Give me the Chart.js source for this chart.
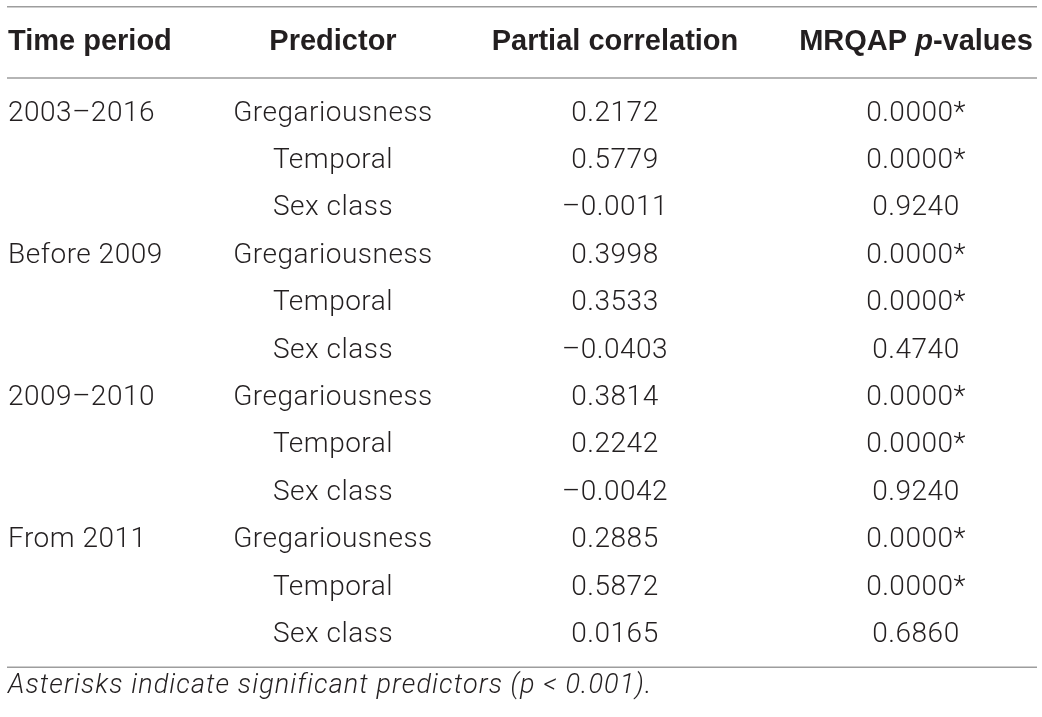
<!DOCTYPE html>
<html><head><meta charset="utf-8">
<script src="https://cdn.jsdelivr.net/npm/chart.js@4.4.0/dist/chart.umd.min.js"></script>
<style>html,body{margin:0;padding:0;background:#fff}#wrap{width:1042px;height:717px;position:relative}</style>
</head><body><div id="wrap"><canvas id="c"></canvas></div>
<script>
// ---- data ----
const headers = ['Time period', 'Predictor', 'Partial correlation', 'MRQAP p-values'];
const periods = ['2003–2016', 'Before 2009', '2009–2010', 'From 2011'];
const predictors = ['Gregariousness', 'Temporal', 'Sex class'];
const partialCorr = [0.2172, 0.5779, -0.0011, 0.3998, 0.3533, -0.0403, 0.3814, 0.2242, -0.0042, 0.2885, 0.5872, 0.0165];
const pValues = [0.0000, 0.0000, 0.9240, 0.0000, 0.0000, 0.4740, 0.0000, 0.0000, 0.9240, 0.0000, 0.0000, 0.6860];
const sigThreshold = 0.001;
const footnote = 'Asterisks indicate significant predictors (p < 0.001).';

// ---- layout / style ----
const colX = [8, 333, 615, 916];
const colAlign = ['left', 'center', 'center', 'center'];
const headerRow = -1.5, rulesY = [-2.25, -0.75, 11.68], footRow = 12.08;
const ink = '#231f20';
const bodyFont = "300 28px Roboto", bodySpacing = '0.5px';
const headFont = "bold 29px 'Liberation Sans'";
const headItal = "italic bold 29px 'Liberation Sans'";
const footFont = "italic 300 27px Roboto", footSpacing = '1.1px';

const fmt = v => (v < 0 ? '–' : '') + Math.abs(v).toFixed(4);
const rowsIdx = partialCorr.map((_, i) => i);

function textSet(col, rows, texts, font, spacing) {
  return { type: 'scatter', data: rows.map(r => ({ x: colX[col], y: r })), texts, align: colAlign[col], font, spacing: spacing || '0px', pointRadius: 0, showLine: false };
}
const datasets = [];
headers.forEach((h, c) => {
  let t = h;
  if (h.indexOf(' p-') >= 0) {
    const [a, b] = h.split(' p-');
    t = [{ t: a + ' ', f: headFont }, { t: 'p', f: headItal }, { t: '-' + b, f: headFont }];
  }
  datasets.push(textSet(c, [headerRow], [t], headFont));
});
datasets.push(textSet(0, periods.map((_, g) => g * predictors.length), periods, bodyFont, bodySpacing));
datasets.push(textSet(1, rowsIdx, rowsIdx.map(i => predictors[i % predictors.length]), bodyFont, bodySpacing));
datasets.push(textSet(2, rowsIdx, partialCorr.map(fmt), bodyFont, bodySpacing));
datasets.push(textSet(3, rowsIdx, pValues.map(p => p.toFixed(4) + (p < sigThreshold ? '*' : '')), bodyFont, bodySpacing));
datasets.push({ type: 'scatter', data: [{ x: colX[0], y: footRow }], texts: [footnote], align: 'left', font: footFont, spacing: footSpacing, pointRadius: 0 });
rulesY.forEach(r => datasets.push({ type: 'line', data: [{ x: 7, y: r }, { x: 1037, y: r }], borderColor: '#9d9d9d', borderWidth: 1.5, pointRadius: 0, fill: false }));

const tablePlugin = {
  id: 'tableText',
  afterDatasetsDraw(chart) {
    const ctx = chart.ctx;
    chart.data.datasets.forEach((ds, di) => {
      if (!ds.texts) return;
      const meta = chart.getDatasetMeta(di);
      meta.data.forEach((el, i) => {
        const t = ds.texts[i];
        const segs = Array.isArray(t) ? t : [{ t, f: ds.font }];
        ctx.save();
        ctx.fillStyle = ink;
        ctx.textBaseline = 'middle';
        ctx.textAlign = 'left';
        ctx.letterSpacing = ds.spacing || '0px';
        let w = 0;
        segs.forEach(s => { ctx.font = s.f; w += ctx.measureText(s.t).width; });
        let x = ds.align === 'center' ? el.x - w / 2 : el.x;
        segs.forEach(s => { ctx.font = s.f; ctx.fillText(s.t, x, el.y); x += ctx.measureText(s.t).width; });
        ctx.restore();
      });
    });
  }
};

const pxPerRow = 47.4, firstRowPx = 113.5;
const yMin = -firstRowPx / pxPerRow, yMax = yMin + 717 / pxPerRow;

function draw() {
  new Chart(document.getElementById('c'), {
    type: 'scatter',
    data: { datasets },
    options: {
      responsive: true, maintainAspectRatio: false, animation: false,
      layout: { padding: 0 },
      plugins: { legend: { display: false }, tooltip: { enabled: false } },
      events: [],
      scales: {
        x: { type: 'linear', min: 0, max: 1042, display: false },
        y: { type: 'linear', min: yMin, max: yMax, reverse: true, display: false }
      }
    },
    plugins: [tablePlugin]
  });
}
Promise.all([bodyFont, headFont, headItal, footFont].map(f => document.fonts.load(f))).then(draw, draw);
</script></body></html>
